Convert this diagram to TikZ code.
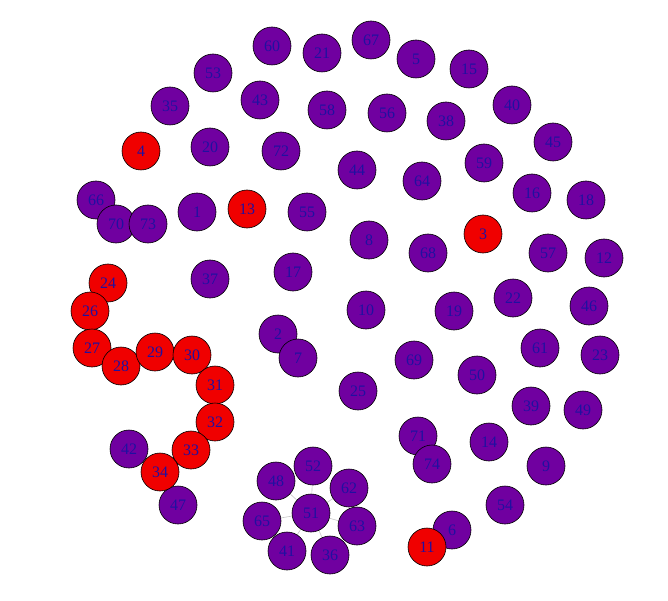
\documentclass[tikz,border=0pt]{standalone}
\usepackage{fontspec}
\setmainfont{Liberation Serif}
\usetikzlibrary{backgrounds}
\definecolor{pfill}{HTML}{7000A0}
\definecolor{rfill}{HTML}{F00000}
\definecolor{ltext}{HTML}{2010A0}
\begin{document}
\begin{tikzpicture}[x=1pt,y=-1pt,
  vnode/.style={circle,draw=black,line width=0.6pt,minimum size=38pt,inner sep=0pt,fill=pfill,text=ltext,font=\fontsize{16}{16}\selectfont},
  rnode/.style={vnode,fill=rfill},
  edge/.style={draw=gray!45,line width=0.6pt}]
\useasboundingbox (0,0) rectangle (668,601);
\foreach \n/\x/\y in {60/272/46,21/322/53,67/371/40,5/416/59,15/469/69,53/213/73,43/260/100,58/327/110,56/387/113,38/446/121,40/512/105,35/170/106,45/553/142,20/210/147,72/281/151,44/357/170,64/422/181,59/484/163,16/532/193,18/586/200,66/96/200,70/116/224,73/148/224,1/197/212,55/307/212,8/369/240,68/428/253,57/548/253,12/604/258,37/210/279,17/293/272,10/366/310,19/454/311,22/513/298,46/589/306,2/278/334,7/298/358,69/414/360,50/477/375,61/540/348,23/600/355,25/358/391,39/531/406,49/583/410,42/129/449,71/418/436,14/489/442,74/432/464,9/546/466,47/178/505,54/505/505,6/452/530,48/276/481,52/313/466,62/349/488,51/311/513,65/262/521,63/357/526,41/287/551,36/330/555}
  {\node[vnode] (n\n) at (\x,\y) {\n};}
\foreach \n/\x/\y in {4/141/151,13/247/209,3/483/234,24/108/283,26/90/311,27/92/348,28/121/366,29/155/352,30/192/355,31/215/385,32/215/422,33/191/450,34/160/472,11/427/547}
  {\node[rnode] (n\n) at (\x,\y) {\n};}
\begin{scope}[on background layer]
\foreach \m in {48,52,62,65,63,41,36}
  {\draw[edge] (n51) -- (n\m);}
\end{scope}
\end{tikzpicture}
\end{document}
